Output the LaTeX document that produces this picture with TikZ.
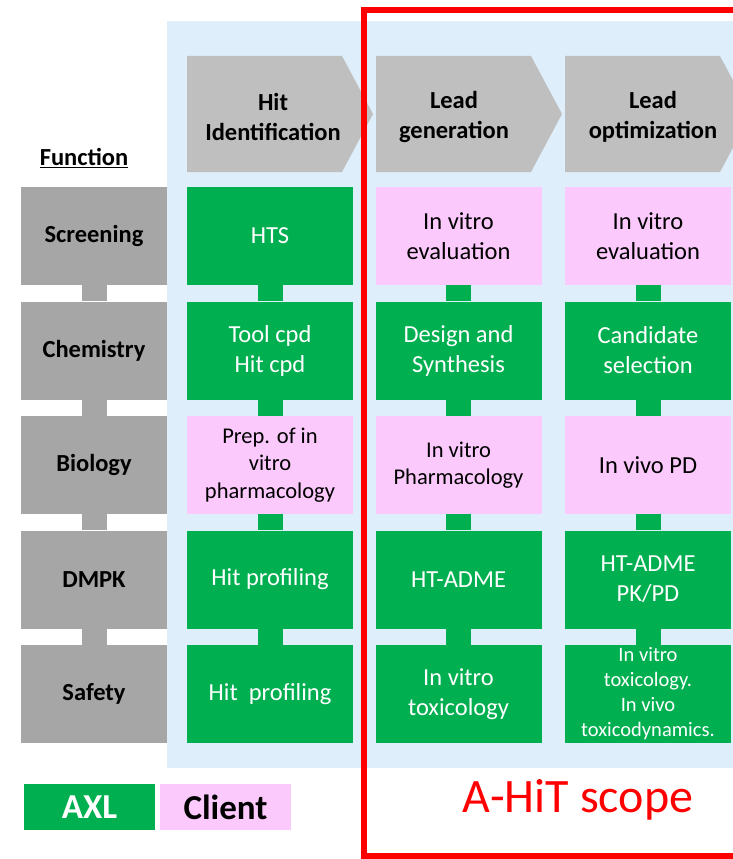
\documentclass[tikz,border=0pt]{standalone}
\usepackage{fontspec}
\setmainfont{Carlito}
\definecolor{axlgreen}{HTML}{00B050}
\definecolor{clientpink}{HTML}{FCC9FC}
\definecolor{chevgray}{HTML}{BFBFBF}
\definecolor{funcgray}{HTML}{A6A6A6}
\definecolor{scopeblue}{HTML}{DEEFFB}
\definecolor{scopered}{HTML}{FF0000}
\tikzset{
  box/.style={minimum width=166pt, minimum height=98pt, inner sep=0pt, align=center, font=\fontsize{24.5}{30}\selectfont},
  axl/.style={box, fill=axlgreen, text=white},
  client/.style={box, fill=clientpink, text=black},
  func/.style={box, minimum width=146pt, fill=funcgray, font=\fontsize{24.5}{30}\selectfont\bfseries},
  small/.style={font=\fontsize{22.5}{27.5}\selectfont},
  tiny/.style={font=\fontsize{20.5}{25}\selectfont},
  head/.style={align=center, inner sep=0pt, font=\fontsize{24.5}{30}\selectfont\bfseries},
  link/.style={line width=25pt, draw=axlgreen},
  flink/.style={line width=25pt, draw=funcgray},
  legend/.style={minimum width=131pt, minimum height=46pt, inner sep=0pt, font=\fontsize{35}{40}\selectfont\bfseries},
}
\begin{document}
\begin{tikzpicture}[x=1pt, y=-1pt, line join=miter]
\useasboundingbox (0,0) rectangle (733,859);
\clip (0,0) rectangle (733,859);
\fill[scopeblue] (167,21) rectangle (733,768);

% phases
\foreach \x/\n/\tx/\t in {187/hit/273/{Hit\\Identification}, 376/lead/454/{Lead\\generation}, 565/opt/653/{Lead\\optimization}}{
  \fill[chevgray] (\x,56) -- ++(155,0) -- ++(31,58) -- ++(-31,58) -- ++(-155,0) -- cycle;
  \node[head] (\n) at (\tx,116.5) {\t};
}

% function column
\node[head] (function) at (84,158) {\underline{Function}};
\node[func] (fscr) at (94,236) {Screening};
\node[func] (fchem) at (94,350.5) {Chemistry};
\node[func] (fbio) at (94,465) {Biology};
\node[func] (fdmpk) at (94,579.5) {DMPK};
\node[func] (fsafe) at (94,694) {Safety};

% hit identification
\node[axl] (hitscr) at (270,236) {HTS};
\node[axl] (hitchem) at (270,350.5) {Tool cpd\\Hit cpd};
\node[client, small] (hitbio) at (270,465) {Prep. of in\\vitro\\pharmacology};
\node[axl] (hitdmpk) at (270,579.5) {Hit profiling};
\node[axl] (hitsafe) at (270,694) {Hit~ profiling};

% lead generation
\node[client] (leadscr) at (458.5,236) {In vitro\\evaluation};
\node[axl] (leadchem) at (458.5,350.5) {Design and\\Synthesis};
\node[client, small] (leadbio) at (458.5,465) {In vitro\\Pharmacology};
\node[axl] (leaddmpk) at (458.5,579.5) {HT-ADME};
\node[axl] (leadsafe) at (458.5,694) {In vitro\\toxicology};

% lead optimization
\node[client] (optscr) at (648,236) {In vitro\\evaluation};
\node[axl] (optchem) at (648,350.5) {Candidate\\selection};
\node[client] (optbio) at (648,465) {In vivo PD};
\node[axl] (optdmpk) at (648,579.5) {HT-ADME\\PK/PD};
\node[axl, tiny] (optsafe) at (648,694) {In vitro\\toxicology.\\In vivo\\toxicodynamics.};

\foreach \a/\b in {scr/chem, chem/bio, bio/dmpk, dmpk/safe}{
  \draw[flink] (f\a.south) -- (f\b.north);
  \foreach \c in {hit, lead, opt}
    \draw[link] (\c\a.south) -- (\c\b.north);
}

% legend
\node[legend, fill=axlgreen, text=white] (axl) at (89.5,807) {AXL};
\node[legend, fill=clientpink, text=black] (client) at (225.5,807) {Client};

% scope
\draw[scopered, line width=6pt] (745,10) -- (363.5,10) -- (363.5,855.5) -- (745,855.5);
\node[anchor=base, text=scopered, font=\fontsize{48}{56}\selectfont] (scope) at (578,812) {A-HiT scope};
\end{tikzpicture}
\end{document}
